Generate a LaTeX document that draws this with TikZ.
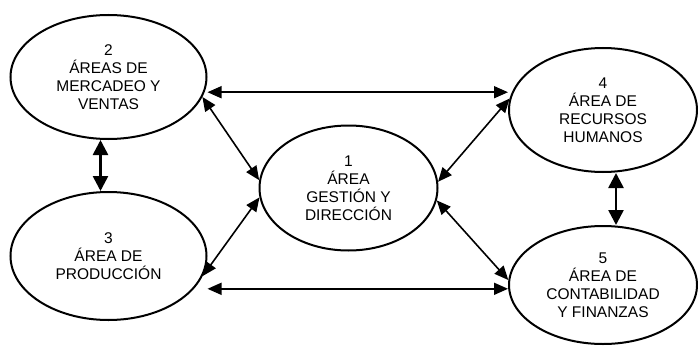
\documentclass[tikz,border=0pt]{standalone}
\usepackage{fontspec}
\setmainfont{Liberation Sans}
\usetikzlibrary{shapes.geometric,arrows.meta}

\begin{document}
\begin{tikzpicture}[x=1pt,y=1pt]
\tikzstyle{every node}+=[inner sep=0pt]
\tikzstyle{area}=[draw, ellipse, line width=2pt, align=center,
  font=\fontsize{15.5}{18}\selectfont]
\tikzstyle{link}=[{Triangle[length=14pt,width=12pt]}-{Triangle[length=14pt,width=12pt]}, line width=1.6pt]
\tikzstyle{bold link}=[{Triangle[length=15pt,width=15pt]}-{Triangle[length=15pt,width=15pt]}, line width=2.6pt]
\useasboundingbox (0,0) rectangle (698,-345);
\node [area, minimum width=196, minimum height=124] (e2) at (108.5,-77) {2\\ÁREAS DE\\MERCADEO Y\\VENTAS};
\node [area, minimum width=196, minimum height=128] (e3) at (108.5,-256) {3\\ÁREA DE\\PRODUCCIÓN};
\node [area, minimum width=178, minimum height=125] (e1) at (348.5,-188) {1\\ÁREA\\GESTIÓN Y\\DIRECCIÓN};
\node [area, minimum width=188, minimum height=124] (e4) at (603,-110) {4\\ÁREA DE\\RECURSOS\\HUMANOS};
\node [area, minimum width=188, minimum height=118] (e5) at (603,-285) {5\\ÁREA DE\\CONTABILIDAD\\Y FINANZAS};
\draw [bold link] ([xshift=-8pt]e2.south) -- ([xshift=-8pt]e3.north);
\draw [bold link] ([xshift=13pt]e4.south) -- ([xshift=13pt]e5.north);
\draw [link] (e2.east |- e2.-9) -- (e4.west |- e2.-9);
\draw [link] (e3.east |- e3.-21) -- (e5.west |- e3.-21);
\draw [link] (e2.-12) -- (e1.175);
\draw [link] (e1.186) -- (e3.-12);
\draw [link] (e4.173) -- (e1.4);
\draw [link] (e1.-8) -- (e5.177);
\end{tikzpicture}
\end{document}
